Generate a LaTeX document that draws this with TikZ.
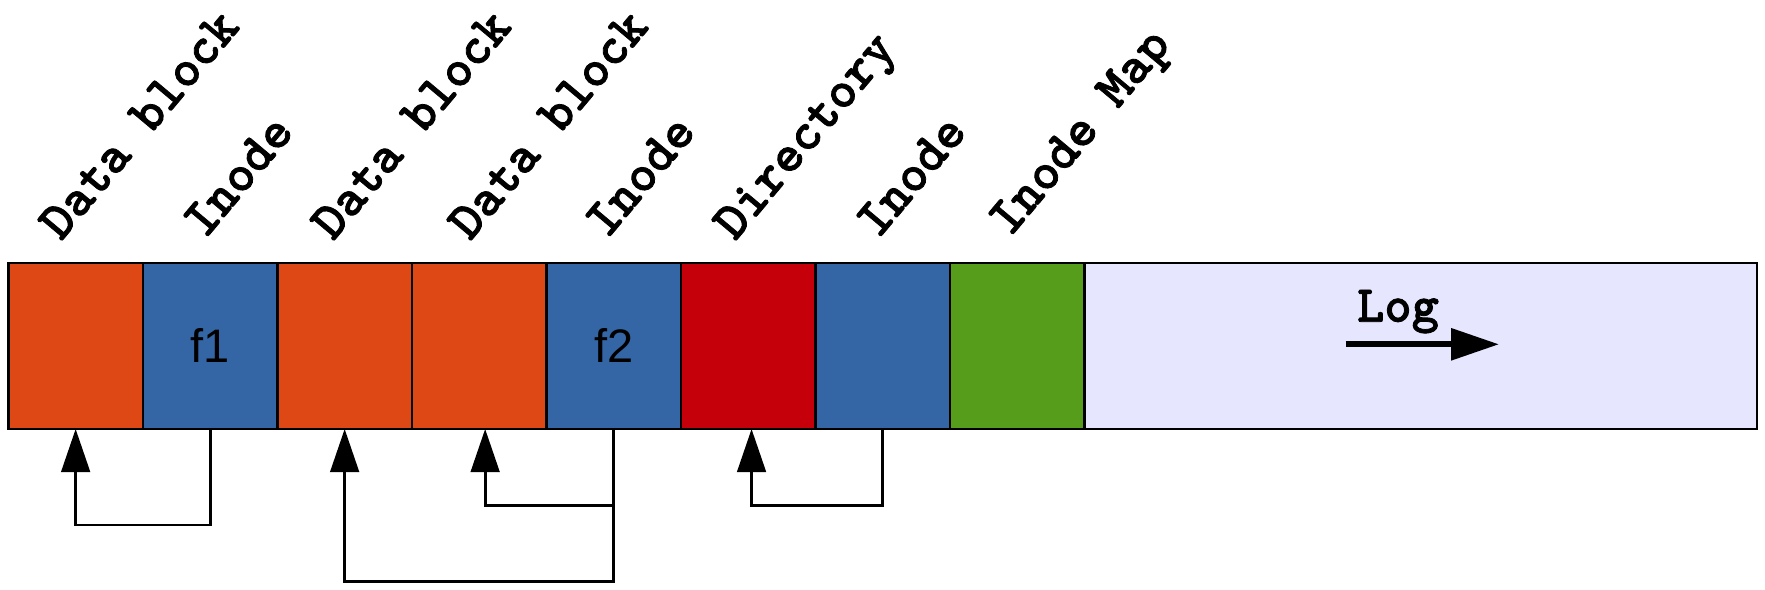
\documentclass[tikz,border=0pt]{standalone}
\usepackage{fontspec}
\setmainfont{Liberation Sans}
\newfontfamily\labfont{lmmonolt10-bold}[Extension=.otf, FakeBold=1.5]
\usetikzlibrary{arrows.meta}
\definecolor{cOrange}{HTML}{DD4814}
\definecolor{cBlue}{HTML}{3465A4}
\definecolor{cRed}{HTML}{C5000B}
\definecolor{cGreen}{HTML}{579D1C}
\definecolor{cLog}{HTML}{E6E6FF}
\begin{document}
\begin{tikzpicture}[x=0.5pt,y=-0.5pt,
  blk/.style={draw=black, line width=1.1pt, minimum width=67.25pt, minimum height=83.15pt,
    inner sep=0pt, outer sep=0pt, anchor=north west,
    font=\fontsize{23.5}{28}\selectfont},
  lbl/.style={anchor=base west, rotate=50, inner sep=0pt,
    font=\labfont\fontsize{26.6}{30}\selectfont},
  conn/.style={draw=black, line width=1.4pt, line join=miter},
  arr/.style={conn, -{Triangle[length=21.5pt, width=14.3pt]}},
  logarr/.style={draw=black, line width=3pt, -{Triangle[length=24pt, width=15.5pt]}}]
\useasboundingbox (0,0) rectangle (1765,589);
% blocks
\node[blk, fill=cOrange] (b1) at (8.4,262.7) {};
\node[blk, fill=cBlue] (b2) at (b1.north east) {f1};
\node[blk, fill=cOrange] (b3) at (b2.north east) {};
\node[blk, fill=cOrange] (b4) at (b3.north east) {};
\node[blk, fill=cBlue] (b5) at (b4.north east) {f2};
\node[blk, fill=cRed] (b6) at (b5.north east) {};
\node[blk, fill=cBlue] (b7) at (b6.north east) {};
\node[blk, fill=cGreen] (b8) at (b7.north east) {};
\node[blk, fill=cLog, minimum width=336.2pt] (b9) at (b8.north east) {};
% labels
\node[lbl] (l1) at (61,242) {Data block};
\node[lbl] (l2) at (205,240) {Inode};
\node[lbl] (l3) at (333,242) {Data block};
\node[lbl] (l4) at (470,242) {Data block};
\node[lbl] (l5) at (607,240) {Inode};
\node[lbl] (l6) at (735,242) {Directory};
\node[lbl] (l7) at (878,240) {Inode};
\node[lbl] (l8) at (1010,238) {Inode Map};
% log
\node[anchor=base, inner sep=0pt, font=\labfont\fontsize{26}{30}\selectfont] (logl) at (1398,321.7) {Log};
\coordinate (la) at (1345.5,344.3);
\coordinate (lb) at (1499,344.3);
\draw[logarr] (la) -- (lb);
% connectors
\draw[arr] (b2.south) -- ++(0,96) -| (b1.south);
\draw[arr] (b5.south) -- ++(0,152.7) -| (b3.south);
\draw[arr] (b5.south) -- ++(0,76.7) -| ([xshift=3pt]b4.south);
\draw[arr] (b7.south) -- ++(0,76.7) -| ([xshift=1.7pt]b6.south);
\end{tikzpicture}
\end{document}
